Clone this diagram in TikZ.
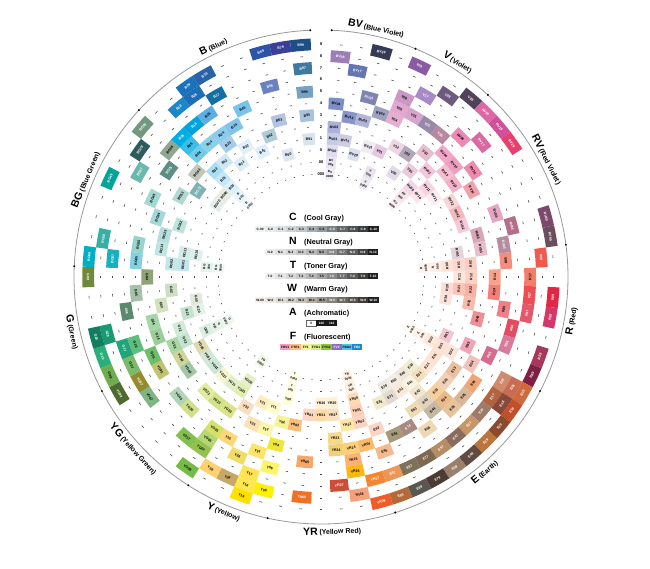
\documentclass[tikz,border=0pt]{standalone}
\usepackage{fontspec}
\setmainfont{Liberation Sans}
\colorlet{k}{black}
\colorlet{w}{white}
\tikzset{
  pl/.style={font=\fontsize{3.5}{3.6}\selectfont\bfseries, inner sep=0pt, align=center},
  plS/.style={font=\fontsize{3.1}{4.7}\selectfont\bfseries, inner sep=0pt, align=center},
  rl/.style={font=\fontsize{4}{4}\selectfont\bfseries, inner sep=0pt},
  dsh/.style={line width=0.6pt, black!70},
  famL/.style={inner sep=1pt, font=\bfseries},
  gcell/.style={minimum width=10.3pt, minimum height=6.5pt, inner sep=0pt, font=\fontsize{3.2}{3.2}\selectfont\bfseries},
  ttl/.style={inner sep=0pt, anchor=base, font=\fontsize{10.5}{10.5}\selectfont\bfseries},
  sub/.style={inner sep=0pt, anchor=base west, font=\fontsize{7.3}{7.3}\selectfont\bfseries},
}
\newcommand\sect[4]{%
  \foreach \slt/\rng/\hx/\lbl/\tcol in {#4}{%
    \pgfmathsetmacro\angA{#2-5*\slt}%
    \pgfmathsetmacro\angB{#2-5*\slt-5}%
    \pgfmathsetmacro\angM{#2-5*\slt-2.5}%
    \pgfmathsetmacro\radI{97.1+11.8*\rng}%
    \pgfmathsetmacro\radO{108.9+11.8*\rng}%
    \pgfmathsetmacro\radM{103+11.8*\rng}%
    \pgfmathsetmacro\rotT{\angM+#3}%
    \ifnum\rng<2 \tikzset{plv/.style={plS}}\else\tikzset{plv/.style={pl}}\fi
    \edef\mkcol{\noexpand\definecolor{pc}{HTML}{\hx}}\mkcol
    \fill[pc] (\angA:\radI) arc[start angle=\angA,end angle=\angB,radius=\radI] -- (\angB:\radO) arc[start angle=\angB,end angle=\angA,radius=\radO] -- cycle;
    \node[plv,text=\tcol,rotate=\rotT] (#1-\slt-\rng) at (\angM:\radM) {\lbl};
  }}
\newcommand\strip[4]{%
  \foreach \lb/\hx/\tcx [count=\i from 0] in {#4}{%
    \edef\mkcol{\noexpand\definecolor{sc}{HTML}{\hx}}\mkcol
    \node[gcell, fill=sc, text=\tcx] (#1\i) at ({#2+10.3*\i+5.15},#3) {\lb};
  }}
\newcommand\famtxt[2]{{\fontsize{10.5}{10.5}\selectfont #1}\,{\fontsize{7}{7}\selectfont #2}}
\begin{document}
\begin{tikzpicture}[x=1pt,y=1pt]
\useasboundingbox (-321,-291) rectangle (329,277);
\fill[white] (-321,-291) rectangle (329,277);
% grid dashes
\foreach \m in {0,...,71}{%
  \ifnum\m=18\relax\else
    \foreach \k in {0,...,11}{%
      \draw[dsh] ({5*\m-0.35}:{103+11.8*\k}) -- ({5*\m+0.35}:{103+11.8*\k});
    }%
  \fi}
% ring labels in gap
\foreach \k/\t in {0/000,1/00,2/0,3/1,4/2,5/3,6/4,7/5,8/6,9/7,10/8,11/9}{%
  \node[rl] (ring\k) at (90:{103+11.8*\k}) {\t};}
% outer circle
\draw[black!40, line width=0.8pt] (87.5:247) arc[start angle=87.5, end angle=-267.5, radius=247];
\foreach \a in {92.5,137.5,177.5,207.5,237.5,257.5,287.5,332.5,7.5,47.5,67.5,87.5}{%
  \fill[black] (\a:247) circle (1.1);}
% ---------------- B
\sect{B}{137.5}{-90}{0/0/F0F8FC/B\\0000/k,0/1/E6F4FB/B\\000/k,0/2/DCF0FA/B00/k,0/3/C6E8F6/B01/k,0/4/ABDDF3/B02/k,0/6/6ECBEA/B04/k,0/7/3DBEE8/B05/k,0/8/00AEE6/B06/w,
1/4/CCE8F4/B12/k,1/6/8ACFEC/B14/k,1/8/00A3DE/B16/w,1/10/1B87C9/B18/w,
2/3/DBEEF8/B21/k,2/5/A3CDEA/B23/k,2/6/8CCBEA/B24/k,2/8/5EAEE0/B26/k,2/10/1E6EB5/B28/w,2/11/1A73BA/B29/w,
3/4/E0F0FA/B32/k,3/6/80C3EB/B34/k,3/9/1470A3/B37/w,3/11/2A63A8/B39/w,
4/3/DDEFF9/B41/k,4/7/78C3EC/B45/k,5/4/AFCCD8/B52/k,
6/2/DDE5F0/B60/k,6/5/B3C3E2/B63/k,6/8/6A82C0/B66/w,6/11/2C56A5/B69/w,7/11/3A3F98/B79/w,
8/3/D8E4EC/B91/k,8/5/A7C2DB/B93/k,8/7/77A2C6/B95/k,8/9/3F7A9E/B97/w,8/11/1F4F86/B99/w}
% ---------------- BV
\sect{BV}{87.5}{-90}{0/0/F1EEF6/BV\\0000/k,0/1/E9E5F2/BV\\000/k,0/2/E0DBEE/BV00/k,0/3/C5CDE6/BV01/k,0/4/ABB3DA/BV02/k,0/6/7C8EC6/BV04/k,0/10/9C7DB8/BV08/w,
1/3/D0CCE4/BV11/k,1/5/8995C8/BV13/k,1/9/6574B3/BV17/w,
2/2/DDE1EF/BV20/k,2/5/B1B5D7/BV23/k,2/7/8184B1/BV25/w,2/11/363B55/BV29/w,
3/3/EDEBF4/BV31/k,3/6/9CA1BF/BV34/k}
% ---------------- V
\sect{V}{67.5}{-90}{0/0/F1ECF3/V\\0000/k,0/1/EAE3EF/V\\000/k,0/3/E4C7E0/V01/k,0/6/E6AED1/V04/k,0/7/E2A8D0/V05/k,0/8/CC96C5/V06/k,0/11/8A5AA5/V09/w,
1/4/EED5E6/V12/k,1/7/D5A5CE/V15/k,1/9/A88AC4/V17/w,
2/2/E2DAE9/V20/k,2/4/B1A6BA/V22/k,2/7/978AA9/V25/w,2/10/6D5A7E/V28/w,
3/3/E9CBD9/V91/k,3/5/E6BECE/V93/k,3/7/B7889F/V95/w,3/11/50425A/V99/w}
% ---------------- RV
\sect{RV}{47.5}{-90}{0/0/FAEFF3/RV\\0000/k,0/1/F6E6EC/RV\\000/k,0/2/F2D8E6/RV00/k,0/4/F5C5DC/RV02/k,0/6/F3A6C7/RV04/k,0/8/EF88B4/RV06/k,0/11/DE67A6/RV09/w,
1/2/FBE4EE/RV10/k,1/3/F8D2E1/RV11/k,1/5/F4BED3/RV13/k,1/6/F09EC0/RV14/k,1/9/DA68A1/RV17/w,1/11/D0509A/RV19/w,
2/3/FCEDF2/RV21/k,2/5/F5B1C7/RV23/k,2/7/F089AF/RV25/k,2/11/E83E70/RV29/w,
3/4/F8D5D7/RV32/k,3/6/F0A2AC/RV34/k,4/4/F4B8BF/RV42/k,5/4/F7C9D8/RV52/k,5/7/E7A4C3/RV55/k,
6/5/D7A6B7/RV63/k,6/8/B46E89/RV66/w,6/11/7C496B/RV69/w,
7/3/E5D3D8/RV91/k,7/5/E7BECD/RV93/k,7/7/B78BA0/RV95/w,7/11/6A4F5F/RV99/w}
% ---------------- R
\sect{R}{7.5}{90}{0/0/FEF2EC/R\\0000/k,0/1/FEEFE6/R\\000/k,0/2/FDE3D5/R00/k,0/3/FCD9D0/R01/k,0/4/FBCEC3/R02/k,0/7/F58D7E/R05/k,0/10/EF594E/R08/w,
1/3/FDE5DB/R11/k,1/4/FCD2C4/R12/k,1/6/F8A28E/R14/k,1/9/F37D69/R17/k,
2/2/FCDED4/R20/k,2/3/FAC4B9/R21/k,2/4/F8B2A4/R22/k,2/6/F37F79/R24/k,2/9/EE4D54/R27/w,2/11/E22744/R29/w,
3/2/FCE2DC/R30/k,3/4/F9BAAF/R32/k,3/7/F07E86/R35/k,3/9/E3596B/R37/w,3/11/D4376A/R39/w,
4/5/EF8E95/R43/k,4/8/E34B61/R46/w,5/8/D87A9A/R56/w,5/11/A5395B/R59/w,
6/3/F1C8CF/R81/k,6/5/F0A4B5/R83/k,6/7/D56C8D/R85/w,6/11/7D2044/R89/w}
% ---------------- E
\sect{E}{332.5}{90}{0/0/FDF8F0/E\\0000/k,0/1/FDF3E8/E\\000/k,0/2/FCE9DC/E00/k,0/3/FCE1D4/E01/k,0/4/FCE4D7/E02/k,0/6/F0C2BA/E04/k,0/9/CF8A6E/E07/w,0/10/C86C54/E08/w,0/11/CF6A3D/E09/w,
1/3/FDE2D0/E11/k,1/5/EBC0A0/E13/k,1/7/F0A579/E15/k,1/9/B2633F/E17/w,1/10/874939/E18/w,1/11/C24F29/E19/w,
2/3/FDE6D3/E21/k,2/5/F1D0B5/E23/k,2/7/D9B698/E25/k,2/9/9E7A68/E27/w,2/11/8A4A2E/E29/w,
3/2/F1ECD4/E30/k,3/3/F2DFC0/E31/k,3/5/F5CF9E/E33/k,3/6/ECBA8A/E34/k,3/7/E6C39B/E35/k,3/9/C79668/E37/w,3/11/B9753D/E39/w,
4/2/EEE7DB/E40/k,4/3/FCF3E3/E41/k,4/4/F1E6D0/E42/k,4/5/E0D3BE/E43/k,4/6/C4B8A2/E44/k,4/9/8B6B5A/E47/w,4/11/614A40/E49/w,
5/2/F5EDE4/E50/k,5/3/FBEAD5/E51/k,5/5/EEDBB4/E53/k,5/7/EED8B4/E55/k,5/9/B58D64/E57/w,5/11/9B7F6D/E59/w,
6/2/EDE8E0/E70/k,6/3/E2D9D2/E71/k,6/6/A68980/E74/w,6/9/7D6852/E77/w,6/11/4B3B33/E79/w,
7/3/F0E9CB/E81/k,7/6/A8997B/E84/k,7/9/7B7258/E87/w,7/11/5A5750/E89/w,
8/5/FBD5C4/E93/k,8/7/F5B990/E95/k,8/9/EE9656/E97/w,8/11/B26A3A/E99/w}
% ---------------- YR
\sect{YR}{287.5}{90}{0/0/FEF3E2/YR\\0000/k,0/1/FEF0DF/YR\\000/k,0/2/FED9B7/YR00/k,0/3/FDD0B6/YR01/k,0/4/FCD3BF/YR02/k,0/6/FDBA6B/YR04/k,0/9/F38533/YR07/w,0/11/F05C29/YR09/w,
1/4/FDE7A3/YR12/k,1/6/FED078/YR14/k,1/7/FCB275/YR15/k,1/8/FDB713/YR16/k,1/10/F5A17E/YR18/k,
2/2/FEF0D5/YR20/k,2/3/F8E0C1/YR21/k,2/5/F6D98A/YR23/k,2/6/F0D079/YR24/k,2/9/CC4E38/YR27/w,
3/2/FEF1D8/YR30/k,3/3/FDDBA6/YR31/k,
4/3/FDD7C3/YR61/k,4/7/F6A668/YR65/k,4/10/F27024/YR68/w,5/4/FCBF7B/YR82/k}
% ---------------- Y
\sect{Y}{257.5}{90}{0/0/FEFDE8/Y\\0000/k,0/1/FFFCE3/Y\\000/k,0/2/FEFDDF/Y00/k,0/4/F6F396/Y02/k,0/6/EDE73A/Y04/k,0/8/FEF46B/Y06/k,0/10/FFF000/Y08/k,
1/3/FFFACB/Y11/k,1/5/FBF6AD/Y13/k,1/7/FEE46B/Y15/k,1/9/FFE354/Y17/k,1/10/FEE84E/Y18/k,1/11/FFE000/Y19/k,
2/3/FFEDC1/Y21/k,2/5/FBE2B2/Y23/k,2/8/F0DC66/Y26/k,2/10/C9A768/Y28/k,
3/4/F9DDBF/Y32/k,3/7/FFD778/Y35/k,3/10/FDD26E/Y38/k}
% ---------------- YG
\sect{YG}{237.5}{90}{0/0/F1F7E4/YG\\0000/k,0/2/E6EFCA/YG00/k,0/3/E1EEB2/YG01/k,0/5/DAE486/YG03/k,0/7/D5E069/YG05/k,0/8/B5D675/YG06/k,0/9/94C34D/YG07/k,0/11/75BC46/YG09/k,
1/3/E5EFC7/YG11/k,1/5/D2E288/YG13/k,1/9/82BF4E/YG17/k,
2/3/F5F5CF/YG21/k,2/5/E2EA9B/YG23/k,2/7/D0DF8B/YG25/k,
3/3/CBE6D5/YG41/k,3/7/B1D4B6/YG45/k,
4/3/D4E6D4/YG61/k,4/5/A2C7A4/YG63/k,4/9/7EB582/YG67/k,
5/3/DEDAB2/YG91/k,5/5/D0D69B/YG93/k,5/7/C1C371/YG95/k,5/9/958B2B/YG97/w,5/11/4D6A2F/YG99/w}
% ---------------- G
\sect{G}{207.5}{90}{0/0/EEF6EF/G\\0000/k,0/1/E7F3E9/G\\000/k,0/2/D9EFE1/G00/k,0/4/C2E3CD/G02/k,0/5/A7D7A5/G03/k,0/7/6CBE69/G05/k,0/9/7BBA6B/G07/k,0/11/6FAE4E/G09/k,
1/4/D3EAD7/G12/k,1/6/9CCE9A/G14/k,1/8/5EBE7D/G16/k,1/9/21A47A/G17/w,1/11/2AAE7B/G19/w,
2/2/E6F2E9/G20/k,2/3/C3E3CE/G21/k,2/6/A6D7A8/G24/k,2/10/1A9A72/G28/w,2/11/157D5F/G29/w,
3/2/E3E9DA/G40/k,3/5/D3E1BF/G43/k,3/8/5B896D/G46/w,
4/4/CCDFC4/G82/k,4/7/A5C2A8/G85/k,5/6/8FA379/G94/k,5/11/6E893A/G99/w}
% ---------------- BG
\sect{BG}{177.5}{-90}{0/0/EDF7F6/BG\\0000/k,0/1/E4F4EC/BG\\000/k,0/3/C3E5EB/BG01/k,0/4/C6E7E9/BG02/k,0/7/82D1E0/BG05/k,0/9/16B1BD/BG07/w,0/11/00AFC1/BG09/w,
1/2/DDF0EE/BG10/k,1/3/D5ECE9/BG11/k,1/5/C1E5E1/BG13/k,1/7/99D3CE/BG15/k,1/10/34B0A5/BG18/w,
2/5/B7DEDF/BG23/k,3/4/BCE4DC/BG32/k,3/6/A2D8D7/BG34/k,
4/7/A3D9D3/BG45/k,4/11/00A49A/BG49/w,5/5/B3D8D2/BG53/k,5/9/6BB8AD/BG57/w,
6/2/E5EDEB/BG70/k,6/4/7FB2B2/BG72/w,6/7/5D8E86/BG75/w,6/10/2E5B5B/BG78/w,
7/2/EAECE3/BG90/k,7/5/C0C8BA/BG93/k,7/8/8FA790/BG96/k,7/11/729980/BG99/w}
% ---------------- family labels
\node[famL, rotate=25, anchor=south] (lB) at (115:249) {\famtxt{B}{(Blue)}};
\node[famL, rotate=-12.5, anchor=south] (lBV) at (77.5:249) {\famtxt{BV}{(Blue Violet)}};
\node[famL, rotate=-32.5, anchor=south] (lV) at (57.5:249) {\famtxt{V}{(Violet)}};
\node[famL, rotate=-62.5, anchor=south] (lRV) at (27.5:249) {\famtxt{RV}{(Red Violet)}};
\node[famL, rotate=67.5, anchor=south] (lBG) at (157.5:249) {\famtxt{BG}{(Blue Green)}};
\node[famL, rotate=80, anchor=north] (lR) at (350:249) {\famtxt{R}{(Red)}};
\node[famL, rotate=40, anchor=north] (lE) at (310:249) {\famtxt{E}{(Earth)}};
\node[famL, rotate=2.5, anchor=north] (lYR) at (272.5:249) {\famtxt{YR}{(Yellow Red)}};
\node[famL, rotate=-22.5, anchor=north] (lY) at (247.5:249) {\famtxt{Y}{(Yellow)}};
\node[famL, rotate=-47.5, anchor=north] (lYG) at (222.5:249) {\famtxt{YG}{(Yellow Green)}};
\node[famL, rotate=-77.5, anchor=north] (lG) at (192.5:249) {\famtxt{G}{(Green)}};
% ---------------- centre legend
\node[ttl] (tC) at (-28,56.5) {C};  \node[sub] (sC) at (-17,56.5) {(Cool Gray)};
\node[ttl] (tN) at (-28,32.5) {N};  \node[sub] (sN) at (-17,32.5) {(Neutral Gray)};
\node[ttl] (tT) at (-28,8.5) {T};   \node[sub] (sT) at (-17,8.5) {(Toner Gray)};
\node[ttl] (tW) at (-29,-14.5) {W}; \node[sub] (sW) at (-17,-14.5) {(Warm Gray)};
\node[ttl] (tA) at (-28,-38.5) {A}; \node[sub] (sA) at (-17,-38.5) {(Achromatic)};
\node[ttl] (tF) at (-28,-62.5) {F}; \node[sub] (sF) at (-17,-62.5) {(Fluorescent)};
\strip{cC}{-66}{48}{C-00/F1F3F4/k,C-0/E8EBEC/k,C-1/DDE1E3/k,C-2/D0D5D8/k,C-3/C0C6CA/k,C-4/A7AEB3/k,C-5/949BA0/k,C-6/7A8186/w,C-7/62676C/w,C-8/4D5155/w,C-9/393C3F/w,C-10/1E1F20/w}
\strip{cN}{-56}{25}{N-0/EEEEEE/k,N-1/E2E2E2/k,N-2/D6D6D6/k,N-3/C9C9C9/k,N-4/B8B8B8/k,N-5/A3A3A3/k,N-6/8C8C8C/w,N-7/737373/w,N-8/5C5C5C/w,N-9/424242/w,N-10/1F1F1F/w}
\strip{cT}{-56}{1}{T-0/EFEFEE/k,T-1/E4E4E3/k,T-2/D7D7D6/k,T-3/CAC9C8/k,T-4/B8B7B6/k,T-5/A2A1A0/k,T-6/8A8988/w,T-7/717070/w,T-8/5A5958/w,T-9/3F3E3D/w,T-10/1F1F1F/w}
\strip{cW}{-66}{-23}{W-00/F3F1EC/k,W-0/ECE9E3/k,W-1/E2DED7/k,W-2/D5D0C8/k,W-3/C5BFB6/k,W-4/B2ABA2/k,W-5/9C958C/k,W-6/85807A/w,W-7/6E6963/w,W-8/56524D/w,W-9/3D3A37/w,W-10/201F1D/w}
\node[gcell, fill=white, draw=black!60, line width=0.4pt, minimum width=9.5pt, minimum height=5.8pt] (cA0) at (-9.85,-46) {0};
\node[gcell, fill=black!90, text=white] (cA1) at (0.45,-46) {100};
\node[gcell, fill=black!90, text=white] (cA2) at (10.75,-46) {110};
\strip{cF}{-41}{-70}{FRV1/F59CC7/k,FYR1/FBBE8B/k,FY1/F6F39C/k,FYG1/D7EB8F/k,FYG2/8DC63F/k,FV2/8A6FB4/w,FBG2/5AC3EA/k,FB2/1E88CB/w}
\end{tikzpicture}
\end{document}
